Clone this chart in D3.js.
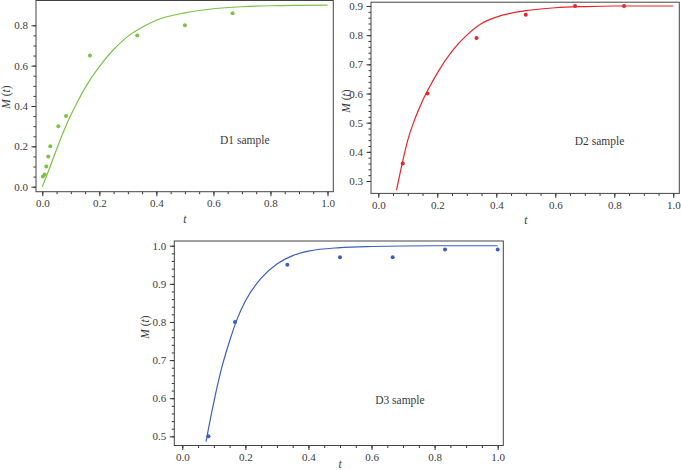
<!DOCTYPE html>
<html>
<head>
<meta charset="utf-8">
<script src="https://cdn.jsdelivr.net/npm/d3@7"></script>
<style>
  body { margin: 0; background: #fff; }
  svg { display: block; }
  text { font-family: "Liberation Serif", "DejaVu Serif", serif; fill: #3a3a3a; }
</style>
</head>
<body>
<div id="chart"></div>
<script>
// D1 sample
var d1_t = [0.002, 0.008, 0.014, 0.021, 0.028, 0.056, 0.083, 0.167, 0.333, 0.5, 0.667];
var d1_m = [0.05, 0.06, 0.10, 0.15, 0.20, 0.30, 0.35, 0.65, 0.75, 0.80, 0.86];
var d1_fit_t = [0, 0.025, 0.05, 0.075, 0.1, 0.125, 0.15, 0.2, 0.25, 0.3, 0.35, 0.4, 0.5, 0.6, 0.7, 0.8, 0.9, 1.0];
var d1_fit_m = [0, 0.09, 0.185, 0.275, 0.355, 0.425, 0.49, 0.595, 0.68, 0.745, 0.79, 0.825, 0.862, 0.882, 0.892, 0.897, 0.899, 0.9];

// D2 sample
var d2_t = [0.083, 0.167, 0.333, 0.5, 0.667, 0.833];
var d2_m = [0.36, 0.60, 0.79, 0.87, 0.90, 0.90];
var d2_fit_t = [0.062, 0.08, 0.1, 0.125, 0.15, 0.175, 0.2, 0.25, 0.3, 0.35, 0.4, 0.5, 0.6, 0.7, 0.8, 1.0];
var d2_fit_m = [0.269, 0.355, 0.44, 0.515, 0.575, 0.625, 0.67, 0.745, 0.8, 0.84, 0.862, 0.884, 0.894, 0.898, 0.9, 0.9];

// D3 sample
var d3_t = [0.083, 0.167, 0.333, 0.5, 0.667, 0.833, 1.0];
var d3_m = [0.50, 0.80, 0.95, 0.97, 0.97, 0.99, 0.99];
var d3_fit_t = [0.075, 0.1, 0.125, 0.15, 0.175, 0.2, 0.25, 0.3, 0.35, 0.4, 0.5, 0.6, 0.8, 1.0];
var d3_fit_m = [0.486, 0.59, 0.68, 0.75, 0.81, 0.855, 0.915, 0.952, 0.974, 0.986, 0.995, 0.998, 1.0, 1.0];

var xTicks = [0, 0.2, 0.4, 0.6, 0.8, 1.0];
var d1_yTicks = [0, 0.2, 0.4, 0.6, 0.8];
var d2_yTicks = [0.3, 0.4, 0.5, 0.6, 0.7, 0.8, 0.9];
var d3_yTicks = [0.5, 0.6, 0.7, 0.8, 0.9, 1.0];
var labels = ["D1 sample", "D2 sample", "D3 sample"];

var width = 681, height = 470;
var svg = d3.select("#chart").append("svg")
    .attr("width", width)
    .attr("height", height);

function drawPanel(p) {
    var x = d3.scaleLinear().domain(p.xDomain).range([p.left, p.right]);
    var y = d3.scaleLinear().domain(p.yDomain).range([p.bottom, p.top]);
    var g = svg.append("g");

    // minor ticks first so the major ones sit on top
    g.append("g")
        .attr("transform", "translate(0," + p.bottom + ")")
        .call(d3.axisBottom(x).tickValues(d3.range(0, 1.0001, 0.05)).tickSize(2.5).tickFormat(""))
        .call(a => a.select(".domain").remove());
    g.append("g")
        .attr("transform", "translate(" + p.left + ",0)")
        .call(d3.axisLeft(y).tickValues(d3.range(p.yTicks[0], p.yTicks[p.yTicks.length - 1] + 1e-6, p.yMinor)).tickSize(2.5).tickFormat(""))
        .call(a => a.select(".domain").remove());

    var xa = g.append("g")
        .attr("transform", "translate(0," + p.bottom + ")")
        .call(d3.axisBottom(x).tickValues(xTicks).tickSize(4.5).tickPadding(3).tickFormat(d3.format(".1f")));
    xa.select(".domain").remove();
    var ya = g.append("g")
        .attr("transform", "translate(" + p.left + ",0)")
        .call(d3.axisLeft(y).tickValues(p.yTicks).tickSize(4.5).tickPadding(3.5).tickFormat(d3.format(".1f")));
    ya.select(".domain").remove();
    g.selectAll(".tick line").attr("stroke", "#333");
    g.selectAll(".tick text").attr("font-size", 11);

    g.append("rect")
        .attr("x", p.left).attr("y", p.top)
        .attr("width", p.right - p.left).attr("height", p.bottom - p.top)
        .attr("fill", "none").attr("stroke", "#444").attr("stroke-width", 1);

    var fit = p.fitT.map((t, i) => [t, p.fitM[i]]);
    g.append("path")
        .datum(fit)
        .attr("fill", "none")
        .attr("stroke", p.color)
        .attr("stroke-width", 1.2)
        .attr("d", d3.line().x(d => x(d[0])).y(d => y(d[1])).curve(d3.curveMonotoneX));

    g.selectAll("circle.pt")
        .data(p.t)
        .enter()
        .append("circle")
        .attr("class", "pt")
        .attr("cx", d => x(d))
        .attr("cy", (d, i) => y(p.m[i]))
        .attr("r", 2)
        .attr("fill", p.color);

    g.append("text")
        .attr("x", x(p.labelAt[0])).attr("y", y(p.labelAt[1]))
        .attr("text-anchor", "middle")
        .attr("font-size", 11.5)
        .text(p.label);

    var yl = g.append("text")
        .attr("transform", "translate(" + p.yTitle[0] + "," + p.yTitle[1] + ") rotate(-90)")
        .attr("text-anchor", "middle")
        .attr("font-size", 11.5);
    yl.append("tspan").attr("font-style", "italic").text("M");
    yl.append("tspan").text(" (");
    yl.append("tspan").attr("font-style", "italic").text("t");
    yl.append("tspan").text(")");

    g.append("text")
        .attr("x", x(0.5)).attr("y", p.xTitleY)
        .attr("text-anchor", "middle")
        .attr("font-size", 11.5)
        .attr("font-style", "italic")
        .text("t");
}

drawPanel({left: 36, right: 333.3, top: 0.5, bottom: 191.7,
    xDomain: [-0.0221, 1.0203], yDomain: [-0.0248, 0.9229],
    yTicks: d1_yTicks, yMinor: 0.05,
    t: d1_t, m: d1_m, fitT: d1_fit_t, fitM: d1_fit_m,
    color: "#7cc243", label: labels[0], labelAt: [0.71, 0.21],
    yTitle: [9.5, 97], xTitleY: 223});

drawPanel({left: 371, right: 679.3, top: 2.2, bottom: 193.4,
    xDomain: [-0.0247, 1.0203], yDomain: [0.2575, 0.913],
    yTicks: d2_yTicks, yMinor: 0.02,
    t: d2_t, m: d2_m, fitT: d2_fit_t, fitM: d2_fit_m,
    color: "#ec2227", label: labels[1], labelAt: [0.75, 0.425],
    yTitle: [349.5, 101], xTitleY: 224});

drawPanel({left: 174.3, right: 503.3, top: 241, bottom: 445.5,
    xDomain: [-0.0254, 1.0178], yDomain: [0.4759, 1.0124],
    yTicks: d3_yTicks, yMinor: 0.02,
    t: d3_t, m: d3_m, fitT: d3_fit_t, fitM: d3_fit_m,
    color: "#3b5fc0", label: labels[2], labelAt: [0.69, 0.585],
    yTitle: [148.5, 327], xTitleY: 468});
</script>
</body>
</html>
